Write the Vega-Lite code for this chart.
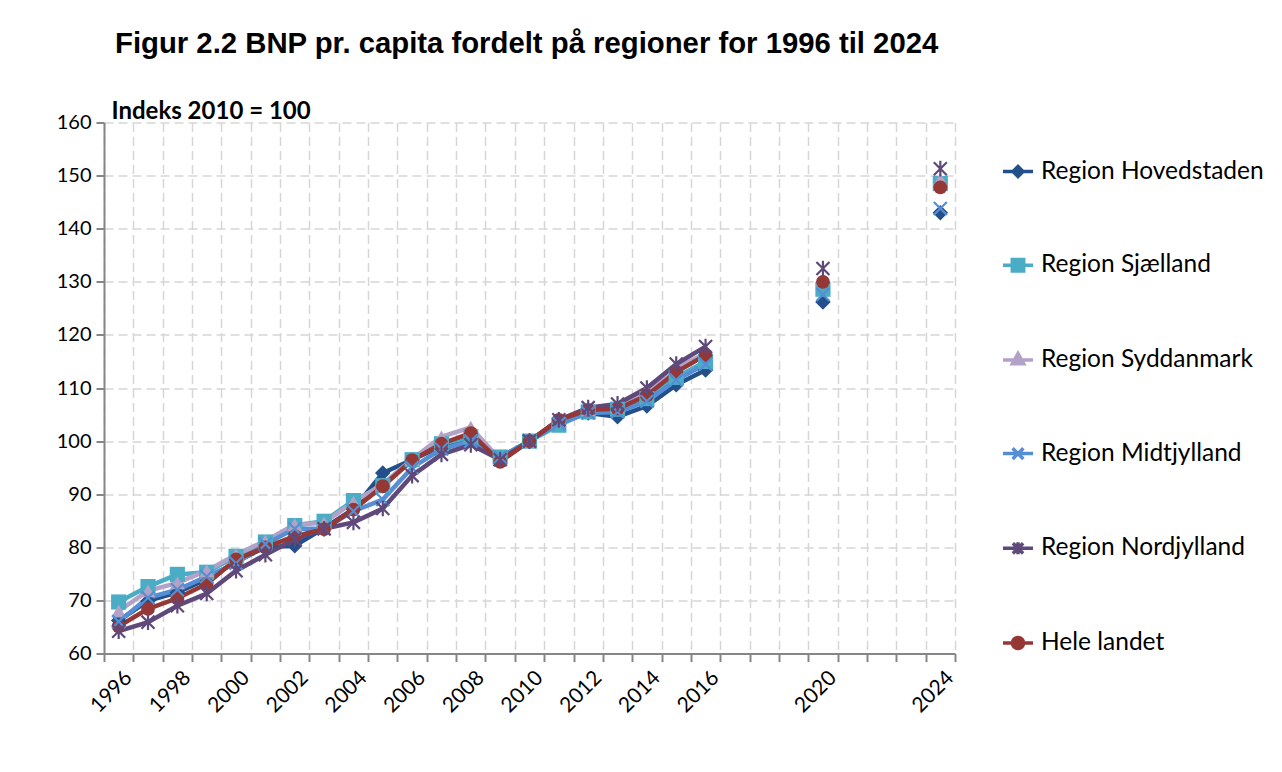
{
  "$schema": "https://vega.github.io/schema/vega-lite/v6.json",
  "width": 851,
  "height": 531,
  "autosize": "none",
  "padding": {"left": 104, "top": 122.5, "right": 327, "bottom": 118.5},
  "background": "white",
  "config": {
    "view": {"stroke": null},
    "legend": {
      "title": null,
      "orient": "none",
      "legendX": 897,
      "legendY": 32,
      "padding": 0,
      "symbolSize": 900,
      "symbolStrokeWidth": 3.5,
      "symbolOpacity": 1,
      "rowPadding": 64.7,
      "labelOffset": 6,
      "labelFont": "Lato",
      "labelFontSize": 24.5,
      "labelColor": "#000000",
      "labelLimit": 400
    }
  },
  "title": {
    "text": "Figur 2.2 BNP pr. capita fordelt på regioner for 1996 til 2024",
    "anchor": "start",
    "frame": "group",
    "font": "Liberation Sans",
    "fontSize": 29.3,
    "fontWeight": "bold",
    "color": "#000000",
    "offset": 40,
    "dx": 11
  },
  "data": {
    "values": [
      {"year": 1996, "Region Hovedstaden": 66.2, "Region Sjælland": 69.7, "Region Syddanmark": 68.0, "Region Midtjylland": 66.0, "Region Nordjylland": 64.2, "Hele landet": 65.1},
      {"year": 1997, "Region Hovedstaden": 69.9, "Region Sjælland": 72.6, "Region Syddanmark": 71.8, "Region Midtjylland": 70.5, "Region Nordjylland": 65.9, "Hele landet": 68.4},
      {"year": 1998, "Region Hovedstaden": 71.5, "Region Sjælland": 74.9, "Region Syddanmark": 73.3, "Region Midtjylland": 72.0, "Region Nordjylland": 69.0, "Hele landet": 70.4},
      {"year": 1999, "Region Hovedstaden": 74.0, "Region Sjælland": 75.3, "Region Syddanmark": 75.6, "Region Midtjylland": 74.5, "Region Nordjylland": 71.3, "Hele landet": 73.1},
      {"year": 2000, "Region Hovedstaden": 77.3, "Region Sjælland": 78.3, "Region Syddanmark": 78.6, "Region Midtjylland": 77.0, "Region Nordjylland": 75.6, "Hele landet": 77.7},
      {"year": 2001, "Region Hovedstaden": 80.0, "Region Sjælland": 81.0, "Region Syddanmark": 81.2, "Region Midtjylland": 80.6, "Region Nordjylland": 78.6, "Hele landet": 80.0},
      {"year": 2002, "Region Hovedstaden": 80.3, "Region Sjælland": 84.1, "Region Syddanmark": 84.3, "Region Midtjylland": 83.5, "Region Nordjylland": 81.5, "Hele landet": 82.1},
      {"year": 2003, "Region Hovedstaden": 83.6, "Region Sjælland": 84.9, "Region Syddanmark": 84.6, "Region Midtjylland": 83.5, "Region Nordjylland": 83.5, "Hele landet": 83.4},
      {"year": 2004, "Region Hovedstaden": 87.2, "Region Sjælland": 88.8, "Region Syddanmark": 88.5, "Region Midtjylland": 86.8, "Region Nordjylland": 84.7, "Hele landet": 87.1},
      {"year": 2005, "Region Hovedstaden": 94.0, "Region Sjælland": 91.6, "Region Syddanmark": 91.9, "Region Midtjylland": 89.0, "Region Nordjylland": 87.3, "Hele landet": 91.5},
      {"year": 2006, "Region Hovedstaden": 96.5, "Region Sjælland": 96.5, "Region Syddanmark": 96.6, "Region Midtjylland": 95.0, "Region Nordjylland": 93.5, "Hele landet": 96.4},
      {"year": 2007, "Region Hovedstaden": 99.0, "Region Sjælland": 99.5, "Region Syddanmark": 100.8, "Region Midtjylland": 98.5, "Region Nordjylland": 97.5, "Hele landet": 99.5},
      {"year": 2008, "Region Hovedstaden": 100.2, "Region Sjælland": 100.8, "Region Syddanmark": 102.6, "Region Midtjylland": 100.0, "Region Nordjylland": 99.3, "Hele landet": 101.5},
      {"year": 2009, "Region Hovedstaden": 96.8, "Region Sjælland": 97.0, "Region Syddanmark": 96.5, "Region Midtjylland": 97.0, "Region Nordjylland": 96.5, "Hele landet": 96.1},
      {"year": 2010, "Region Hovedstaden": 100.0, "Region Sjælland": 100.0, "Region Syddanmark": 100.0, "Region Midtjylland": 100.0, "Region Nordjylland": 100.0, "Hele landet": 100.0},
      {"year": 2011, "Region Hovedstaden": 103.5, "Region Sjælland": 103.0, "Region Syddanmark": 103.8, "Region Midtjylland": 103.3, "Region Nordjylland": 104.0, "Hele landet": 104.0},
      {"year": 2012, "Region Hovedstaden": 105.3, "Region Sjælland": 105.5, "Region Syddanmark": 106.0, "Region Midtjylland": 105.3, "Region Nordjylland": 106.3, "Hele landet": 105.9},
      {"year": 2013, "Region Hovedstaden": 104.6, "Region Sjælland": 106.0, "Region Syddanmark": 106.5, "Region Midtjylland": 105.5, "Region Nordjylland": 107.0, "Hele landet": 106.1},
      {"year": 2014, "Region Hovedstaden": 106.6, "Region Sjælland": 108.0, "Region Syddanmark": 109.5, "Region Midtjylland": 107.5, "Region Nordjylland": 110.0, "Hele landet": 108.6},
      {"year": 2015, "Region Hovedstaden": 110.6, "Region Sjælland": 112.0, "Region Syddanmark": 113.8, "Region Midtjylland": 111.5, "Region Nordjylland": 114.5, "Hele landet": 113.0},
      {"year": 2016, "Region Hovedstaden": 113.4, "Region Sjælland": 115.0, "Region Syddanmark": 116.5, "Region Midtjylland": 114.5, "Region Nordjylland": 117.8, "Hele landet": 116.2},
      {"year": 2020, "Region Hovedstaden": 126.2, "Region Sjælland": 128.6, "Region Syddanmark": 130.5, "Region Midtjylland": 127.6, "Region Nordjylland": 132.5, "Hele landet": 130.0},
      {"year": 2024, "Region Hovedstaden": 143.0, "Region Sjælland": 148.5, "Region Syddanmark": 149.3, "Region Midtjylland": 143.8, "Region Nordjylland": 151.3, "Hele landet": 147.8}
    ]
  },
  "transform": [
    {"fold": ["Region Hovedstaden", "Region Sjælland", "Region Syddanmark", "Region Midtjylland", "Region Nordjylland", "Hele landet"], "as": ["region", "value"]}
  ],
  "encoding": {
    "x": {
      "field": "year",
      "type": "quantitative",
      "scale": {"domain": [1995.5, 2024.5], "nice": false, "zero": false},
      "axis": {
        "title": null,
        "values": [1995.5, 1996.5, 1997.5, 1998.5, 1999.5, 2000.5, 2001.5, 2002.5, 2003.5, 2004.5, 2005.5, 2006.5, 2007.5, 2008.5, 2009.5, 2010.5, 2011.5, 2012.5, 2013.5, 2014.5, 2015.5, 2016.5, 2017.5, 2018.5, 2019.5, 2020.5, 2021.5, 2022.5, 2023.5, 2024.5],
        "labelExpr": "indexof([1996,1998,2000,2002,2004,2006,2008,2010,2012,2014,2016,2020,2024], datum.value + 0.5) >= 0 ? '' + (datum.value + 0.5) : ''",
        "labelAngle": -45,
        "labelAlign": "right",
        "labelBaseline": "middle",
        "labelOffset": 24.5,
        "labelPadding": 13,
        "labelFont": "Lato",
        "labelFontSize": 21,
        "labelColor": "#000000",
        "labelOverlap": false,
        "labelFlush": false,
        "labelBound": false,
        "tickSize": 8,
        "tickWidth": 2,
        "tickColor": "#868686",
        "domainColor": "#868686",
        "domainWidth": 2,
        "grid": true,
        "gridColor": "#D6D6D6",
        "gridDash": [9, 5],
        "gridWidth": 1.5
      }
    },
    "y": {
      "field": "value",
      "type": "quantitative",
      "scale": {"domain": [60, 160], "nice": false, "zero": false},
      "axis": {
        "title": "Indeks 2010 = 100",
        "titleAngle": 0,
        "titleAlign": "left",
        "titleBaseline": "alphabetic",
        "titleX": 7,
        "titleY": -4,
        "titleFont": "Lato",
        "titleFontWeight": "bold",
        "titleFontSize": 24,
        "titleColor": "#000000",
        "values": [60, 70, 80, 90, 100, 110, 120, 130, 140, 150, 160],
        "labelFont": "Lato",
        "labelFontSize": 20,
        "labelColor": "#000000",
        "labelPadding": 5,
        "tickSize": 8,
        "tickWidth": 2,
        "tickColor": "#868686",
        "domainColor": "#868686",
        "domainWidth": 2,
        "grid": true,
        "gridColor": "#D6D6D6",
        "gridDash": [9, 5],
        "gridWidth": 1.5
      }
    },
    "color": {
      "field": "region",
      "type": "nominal",
      "scale": {
        "domain": ["Region Hovedstaden", "Region Sjælland", "Region Syddanmark", "Region Midtjylland", "Region Nordjylland", "Hele landet"],
        "range": ["#23508A", "#4BACC6", "#B3A2C7", "#558ED5", "#5F497A", "#953735"]
      },
      "legend": null
    }
  },
  "resolve": {
    "scale": {"color": "independent", "shape": "independent", "size": "independent", "stroke": "independent"},
    "legend": {"color": "independent", "shape": "independent", "stroke": "independent", "size": "independent"}
  },
  "layer": [
    {
      "transform": [{"filter": "datum.year <= 2016"}],
      "mark": {"type": "line", "strokeWidth": 4.5}
    },
    {
      "transform": [{"filter": "indexof(['Region Midtjylland', 'Region Nordjylland'], datum.region) < 0"}],
      "mark": {"type": "point", "filled": true, "opacity": 1, "strokeWidth": 0},
      "encoding": {
        "shape": {
          "field": "region", "type": "nominal", "legend": null,
          "scale": {
            "domain": ["Region Hovedstaden", "Region Sjælland", "Region Syddanmark", "Region Midtjylland", "Region Nordjylland", "Hele landet"],
            "range": ["diamond", "square", "triangle-up", "M-1,-1L1,1M-1,1L1,-1", "M-1,-1L1,1M-1,1L1,-1M0,-1.2L0,1.2", "circle"]
          }
        },
        "size": {
          "field": "region", "type": "nominal", "legend": null,
          "scale": {
            "domain": ["Region Hovedstaden", "Region Sjælland", "Region Syddanmark", "Region Midtjylland", "Region Nordjylland", "Hele landet"],
            "range": [240, 190, 260, 160, 160, 300]
          }
        }
      }
    },
    {
      "transform": [{"filter": "indexof(['Region Midtjylland', 'Region Nordjylland'], datum.region) >= 0"}],
      "mark": {"type": "point", "filled": false, "opacity": 1, "strokeWidth": 2.2},
      "encoding": {
        "shape": {
          "field": "region", "type": "nominal", "legend": null,
          "scale": {
            "domain": ["Region Hovedstaden", "Region Sjælland", "Region Syddanmark", "Region Midtjylland", "Region Nordjylland", "Hele landet"],
            "range": ["diamond", "square", "triangle-up", "M-1,-1L1,1M-1,1L1,-1", "M-1,-1L1,1M-1,1L1,-1M0,-1.2L0,1.2", "circle"]
          }
        },
        "size": {
          "field": "region", "type": "nominal", "legend": null,
          "scale": {
            "domain": ["Region Hovedstaden", "Region Sjælland", "Region Syddanmark", "Region Midtjylland", "Region Nordjylland", "Hele landet"],
            "range": [170, 170, 170, 170, 170, 170]
          }
        }
      }
    },
    {
      "transform": [{"filter": "datum.year > 3000"}],
      "mark": {"type": "point", "filled": true, "opacity": 1, "strokeWidth": 3.5},
      "encoding": {
        "color": {
          "field": "region", "type": "nominal",
          "scale": {
            "domain": ["Region Hovedstaden", "Region Sjælland", "Region Syddanmark", "Region Midtjylland", "Region Nordjylland", "Hele landet"],
            "range": ["#23508A", "#4BACC6", "#B3A2C7", "#558ED5", "#5F497A", "#953735"]
          },
          "legend": {}
        },
        "stroke": {
          "field": "region", "type": "nominal",
          "scale": {
            "domain": ["Region Hovedstaden", "Region Sjælland", "Region Syddanmark", "Region Midtjylland", "Region Nordjylland", "Hele landet"],
            "range": ["#23508A", "#4BACC6", "#B3A2C7", "#558ED5", "#5F497A", "#953735"]
          },
          "legend": {}
        },
        "shape": {
          "field": "region", "type": "nominal",
          "scale": {
            "domain": ["Region Hovedstaden", "Region Sjælland", "Region Syddanmark", "Region Midtjylland", "Region Nordjylland", "Hele landet"],
            "range": [
              "M-1,0L1,0M0,-0.33L0.33,0L0,0.33L-0.33,0Z",
              "M-1,0L1,0M-0.38,-0.38L0.38,-0.38L0.38,0.38L-0.38,0.38Z",
              "M-1,0L1,0M0,-0.42L0.38,0.26L-0.38,0.26Z",
              "M-1,0L1,0M-0.36,-0.36L0.36,0.36M-0.36,0.36L0.36,-0.36",
              "M-1,0L1,0M-0.34,-0.34L0.34,0.34M-0.34,0.34L0.34,-0.34M0,-0.4L0,0.4",
              "M-1,0L1,0M-0.37,0A0.37,0.37 0 1,0 0.37,0A0.37,0.37 0 1,0 -0.37,0Z"
            ]
          },
          "legend": {}
        }
      }
    }
  ]
}
